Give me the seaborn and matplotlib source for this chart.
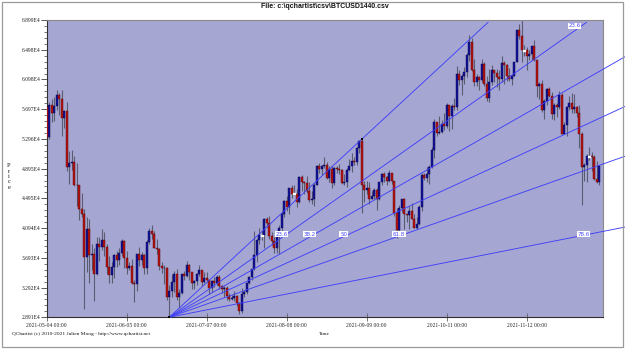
import numpy as np
import pandas as pd
import matplotlib
matplotlib.use("Agg")
import matplotlib.pyplot as plt
import seaborn as sns
from matplotlib.patches import Rectangle
from matplotlib.ticker import FixedLocator

# ---------------- data (BTCUSD daily, thousands of USD) ----------------
start_date = "2021-05-04"
open_k = [
    57.2,53.2,57.5,56.4,57.4,58.9,58.3,55.8,56.7,49.2,49.7,49.9,46.8,46.7,43.5,42.9,37.0,40.8,37.3,37.5,34.8,38.8,38.4,39.3,38.4,35.7,34.6,35.7,
    37.3,36.7,37.6,39.2,36.9,35.5,35.8,33.6,33.4,37.4,36.7,37.3,35.6,39.1,40.5,40.1,38.3,38.1,35.8,35.5,35.6,31.7,32.5,33.7,34.7,31.6,32.2,34.7,34.5,35.9,
    35.0,33.5,33.8,34.7,35.3,33.7,34.2,33.9,32.9,33.8,33.5,34.3,33.1,32.7,32.8,31.8,31.4,31.5,31.8,30.8,29.8,32.1,32.3,33.6,34.3,35.4,37.3,39.4,40.0,40.0,42.2,
    41.6,39.9,39.2,38.2,39.7,40.9,42.8,44.6,43.8,46.3,45.6,45.6,44.4,47.8,47.1,47.0,46.0,44.7,44.8,46.7,49.3,48.9,49.3,49.5,47.7,48.9,47.0,49.1,48.9,48.8,47.0,
    47.2,48.8,49.3,50.0,49.9,51.8,52.7,46.8,46.1,46.4,44.9,45.2,46.1,44.9,47.1,48.2,47.8,47.3,48.3,47.3,43.0,40.7,43.6,44.9,42.8,42.7,43.2,42.2,41.0,41.5,
    43.8,48.1,47.7,48.2,49.2,51.5,55.3,53.8,53.9,55.0,54.7,57.5,56.0,57.4,57.3,61.7,60.9,61.5,62.0,64.3,66.0,62.2,60.7,61.3,60.9,63.1,60.4,58.5,60.6,62.3,61.9,
    61.3,61.0,63.2,62.9,61.4,61.0,61.5,63.3,67.6,66.9,64.9,64.9,64.2,64.4,65.5,63.6,60.1,60.4,56.9,58.1,59.7,58.7,56.3,57.6,57.2,58.9,53.6,54.8,57.3,57.8,
    57.0,57.2,56.5,53.6,49.2,49.4,50.6,50.6,50.5,47.6,47.1,
]
high_k = [
    57.2,57.9,58.4,58.6,59.5,59.2,59.6,56.9,58.0,51.3,51.4,50.6,49.7,46.7,45.7,43.5,42.5,42.2,38.8,38.2,39.8,39.8,40.8,40.4,38.8,37.2,36.4,37.5,
    37.9,38.2,39.5,39.3,37.9,36.4,36.8,34.0,37.5,38.4,37.7,37.4,39.3,41.0,41.3,40.5,39.5,38.2,36.4,36.0,35.7,33.3,34.8,35.2,35.4,32.7,34.7,35.2,36.5,36.1,
    35.0,33.9,34.9,35.9,35.3,35.0,35.0,33.9,34.0,34.3,34.6,34.6,33.3,33.1,33.2,32.2,31.9,32.4,31.9,31.0,32.8,32.6,33.6,34.5,35.4,40.5,39.5,40.9,40.6,42.3,42.4,
    42.6,40.4,39.8,39.9,41.4,43.3,44.7,45.3,46.4,46.7,46.7,46.2,47.9,48.1,47.3,48.0,47.1,46.0,47.0,49.4,49.7,49.5,50.5,49.8,49.3,49.3,49.2,49.3,49.6,48.9,48.2,
    49.0,50.3,51.0,50.5,51.9,52.8,52.92,47.3,47.3,47.1,45.9,46.4,46.4,47.2,48.4,48.5,48.0,48.8,48.4,47.3,43.6,44.0,44.9,45.0,42.9,43.9,44.3,42.8,42.5,44.0,
    48.4,48.3,49.2,49.5,51.9,55.6,55.3,56.1,55.5,56.5,57.8,57.6,57.7,58.5,62.8,62.3,61.7,62.6,64.5,67.0,66.6,63.7,61.7,61.5,63.7,63.3,61.5,62.4,62.9,62.3,62.4,
    62.3,64.2,63.5,63.1,62.5,61.6,63.3,67.7,68.5,68.992,65.6,65.3,65.0,65.5,66.3,63.6,60.7,60.9,58.3,59.8,60.0,59.3,57.8,57.8,59.4,59.2,55.3,57.4,58.8,59.2,
    59.0,57.4,57.6,53.9,49.7,50.9,51.9,51.2,50.8,50.0,49.5,
]
low_k = [
    53.0,52.9,55.3,55.4,56.9,56.2,53.4,54.4,48.6,46.9,48.8,46.6,43.9,42.0,42.4,30.0,35.0,33.5,35.3,31.1,34.6,36.5,38.0,37.2,34.8,33.6,33.5,34.2,
    35.7,35.9,37.2,35.6,34.8,35.3,33.4,31.0,32.4,35.8,35.9,34.7,34.8,38.8,39.5,38.2,37.4,35.3,34.9,33.4,31.3,28.914,31.7,32.3,31.3,30.2,32.0,33.9,34.3,34.0,
    32.7,32.7,33.3,34.5,33.2,33.6,33.8,32.1,32.3,33.0,33.3,32.7,32.2,31.6,31.2,31.1,31.2,31.1,30.4,29.3,29.5,31.7,32.0,33.4,33.9,35.3,36.4,38.8,39.3,38.3,41.1,
    39.5,38.7,37.6,37.6,37.4,39.9,42.5,43.3,42.9,45.0,45.4,43.8,44.3,45.9,45.6,45.7,44.4,44.2,43.9,46.7,48.3,48.1,49.1,47.6,47.2,46.4,46.7,48.4,48.2,46.9,46.7,
    46.5,48.6,48.5,49.5,49.5,51.1,43.0,44.4,45.6,44.2,44.8,44.8,43.4,44.7,46.8,47.1,46.8,47.1,46.9,42.6,39.6,40.6,43.1,40.8,41.7,40.8,42.2,40.9,40.8,41.4,
    43.3,47.4,47.1,46.9,49.1,50.4,53.4,53.6,53.7,54.1,54.4,54.0,54.3,56.9,56.9,60.2,58.9,60.4,61.3,63.5,62.1,60.1,60.1,59.6,60.7,60.1,58.1,57.9,60.2,60.7,59.9,
    59.6,60.7,60.4,60.8,60.8,60.2,61.4,63.3,66.4,63.3,64.2,62.3,63.6,63.6,63.4,58.6,58.4,56.6,55.6,57.5,58.6,55.7,55.5,55.9,57.0,53.6,53.6,53.3,56.8,56.5,
    56.5,55.9,51.7,44.0,47.3,47.2,50.1,48.7,47.4,47.0,46.8,
]
close_k = [
    53.2,57.5,56.4,57.4,58.9,58.3,55.8,56.7,49.2,49.7,49.9,46.8,46.7,43.5,42.9,37.0,40.8,37.3,37.5,34.8,38.8,38.4,39.3,38.4,35.7,34.6,35.7,37.3,
    36.7,37.6,39.2,36.9,35.5,35.8,33.6,33.4,37.4,36.7,37.3,35.6,39.1,40.5,40.1,38.3,38.1,35.8,35.5,35.6,31.7,32.5,33.7,34.7,31.6,32.2,34.7,34.5,35.9,35.0,
    33.5,33.8,34.7,35.3,33.7,34.2,33.9,32.9,33.8,33.5,34.3,33.1,32.7,32.8,31.8,31.4,31.5,31.8,30.8,29.8,32.1,32.3,33.6,34.3,35.4,37.3,39.4,40.0,40.0,42.2,41.6,
    39.9,39.2,38.2,39.7,40.9,42.8,44.6,43.8,46.3,45.6,45.6,44.4,47.8,47.1,47.0,46.0,44.7,44.8,46.7,49.3,48.9,49.3,49.5,47.7,48.9,47.0,49.1,48.9,48.8,47.0,47.2,
    48.8,49.3,50.0,49.9,51.8,52.7,46.8,46.1,46.4,44.9,45.2,46.1,44.9,47.1,48.2,47.8,47.3,48.3,47.3,43.0,40.7,43.6,44.9,42.8,42.7,43.2,42.2,41.0,41.5,43.8,
    48.1,47.7,48.2,49.2,51.5,55.3,53.8,53.9,55.0,54.7,57.5,56.0,57.4,57.3,61.7,60.9,61.5,62.0,64.3,66.0,62.2,60.7,61.3,60.9,63.1,60.4,58.5,60.6,62.3,61.9,61.3,
    61.0,63.2,62.9,61.4,61.0,61.5,63.3,67.6,66.9,64.9,64.9,64.2,64.4,65.5,63.6,60.1,60.4,56.9,58.1,59.7,58.7,56.3,57.6,57.2,58.9,53.6,54.8,57.3,57.8,57.0,
    57.2,56.5,53.6,49.2,49.4,50.6,50.6,50.5,47.6,47.1,49.3,
]

# Fibonacci fan: anchored at the low bar and the high bar
fan_anchor_low_bar = 49     # 2021-06-22
fan_anchor_high_bar = 126   # 2021-09-07
fan_ratios = [0.0, 0.236, 0.382, 0.5, 0.618, 0.786]
fan_labels = ["", "23.6", "38.2", "50", "61.8", "78.6"]
fan_label_price = 40100.0
tick_step_bars = 32

title_text = "File: c:\\qchartist\\csv\\BTCUSD1440.csv"
credit_text = "QChartist (c) 2010-2021 Julien Moog - http://www.qchartist.net"
xlabel_text = "Time"
ylabel_text = "Price"

# ---------------- build frame ----------------
o = np.array(open_k) * 1000
h = np.array(high_k) * 1000
l = np.array(low_k) * 1000
c = np.array(close_k) * 1000
n = len(c)
dates = pd.date_range(start_date, periods=n, freq="D")
df = pd.DataFrame({"bar": np.arange(n), "date": dates, "open": o, "high": h, "low": l, "close": c})

sns.set_theme(style="white")
plt.rcParams["font.family"] = ["Liberation Serif", "DejaVu Serif"]

W, H = 625, 351
fig = plt.figure(figsize=(W / 100, H / 100), dpi=100)
fig.patch.set_facecolor("white")

L_PX, R_PX, T_PX, B_PX = 46.7, 602.7, 20.0, 317.3
ax = fig.add_axes([L_PX / W, 1 - B_PX / H, (R_PX - L_PX) / W, (B_PX - T_PX) / H])
ax.set_facecolor("#a6a6d3")

ymin, ymax = df["low"].min(), df["high"].max()
ax.set_ylim(ymin, ymax)
ax.set_xlim(0, 222.4)

# wicks
ax.vlines(df["bar"], df["low"], df["high"], color="#5c5c70", lw=0.8, zorder=2)

# bodies
up = df["close"] > df["open"]
down = df["close"] < df["open"]
flat = df["close"] == df["open"]
bot = np.minimum(df["open"], df["close"])
hgt = np.abs(df["close"] - df["open"])
ax.bar(df["bar"][up], hgt[up], bottom=bot[up], width=0.8, color="#14149a",
       edgecolor="#00004a", linewidth=0.3, zorder=3)
ax.bar(df["bar"][down], hgt[down], bottom=bot[down], width=0.8, color="#b41414",
       edgecolor="#5a0000", linewidth=0.3, zorder=3)
ax.bar(df["bar"][flat], 120, bottom=bot[flat] - 60, width=0.8, color="black", zorder=3)

# fan
x0, y0 = fan_anchor_low_bar, df["low"][fan_anchor_low_bar]
x1, y1 = fan_anchor_high_bar, df["high"][fan_anchor_high_bar]
top_stop = ymax - 0.0075 * (ymax - ymin)
fan_color = "#4040f8"
for r, lab in zip(fan_ratios, fan_labels):
    slope = (1 - r) * (y1 - y0) / (x1 - x0)
    x_end = min((top_stop - y0) / slope + x0, 240)
    xs = np.array([x0, x_end])
    ax.plot(xs, y0 + slope * (xs - x0), color=fan_color, lw=0.65, zorder=4, clip_on=False)
    if lab:
        xl = x0 + (fan_label_price - y0) / slope - 2.0
        ax.text(xl, fan_label_price, lab, fontsize=4, color="#4a4aff", ha="center", va="center",
                family="DejaVu Sans", zorder=6,
                bbox=dict(boxstyle="square,pad=0.12", fc="white", ec="none"))
    if r == 0.236:
        ax.text(x_end - 2.5, ymax - 0.02 * (ymax - ymin), lab, fontsize=4, color="#4a4aff",
                ha="right", va="center", family="DejaVu Sans", zorder=6,
                bbox=dict(boxstyle="square,pad=0.12", fc="white", ec="none"))

sns.scatterplot(x=[x0, x1], y=[y0, y1], marker="s", color="black", s=4.5, linewidth=0,
                ax=ax, zorder=7, clip_on=False, legend=False)

# axes styling
yt = np.linspace(ymin, ymax, 11)
ax.yaxis.set_major_locator(FixedLocator(yt))
ax.yaxis.set_minor_locator(FixedLocator(np.linspace(ymin, ymax, 51)))
ax.set_yticklabels([f"{v / 1e4:.3f}E4" for v in yt])
xt = np.arange(0, n, tick_step_bars)
ax.xaxis.set_major_locator(FixedLocator(xt))
ax.set_xticklabels([dates[i].strftime("%Y-%m-%d %H:%M") for i in xt])
ax.tick_params(axis="y", which="major", direction="out", length=4, width=0.6, color="#404040",
               labelsize=4, pad=0.5, labelcolor="#222222", left=True)
ax.tick_params(axis="y", which="minor", direction="out", length=2.5, width=0.5, color="#404040", left=True)
ax.tick_params(axis="x", which="major", direction="inout", length=6, width=0.6, color="#606060",
               labelsize=4, pad=1, labelcolor="#222222", bottom=True)
for s in ["left", "bottom"]:
    ax.spines[s].set_color("#303030")
    ax.spines[s].set_linewidth(0.8)
for s in ["top", "right"]:
    ax.spines[s].set_color("#8a8a8a")
    ax.spines[s].set_linewidth(0.8)
ax.set_xlabel("")
ax.set_ylabel("")

# texts
fig.text(((L_PX + R_PX) / 2) / W, 1 - 6 / H, title_text, ha="center", va="center", fontsize=5,
         fontweight="bold", family=["Liberation Sans", "DejaVu Sans"], color="#111111")
fig.text(12 / W, 1 - 334 / H, credit_text, ha="left", va="center", fontsize=3.9, color="#111111")
fig.text(324 / W, 1 - 334 / H, xlabel_text, ha="center", va="center", fontsize=3.9, color="#111111")
fig.text(9 / W, 1 - 176.5 / H, "\n".join(ylabel_text), ha="center", va="center", fontsize=4.5,
         linespacing=1.1, color="#111111")

# outer frame
fig.patches.append(Rectangle((2 / W, 1 - 347 / H), 620.7 / W, 345 / H, transform=fig.transFigure,
                             fill=False, ec="#9a9a9a", lw=0.9))

fig.savefig("out.png", dpi=100)
